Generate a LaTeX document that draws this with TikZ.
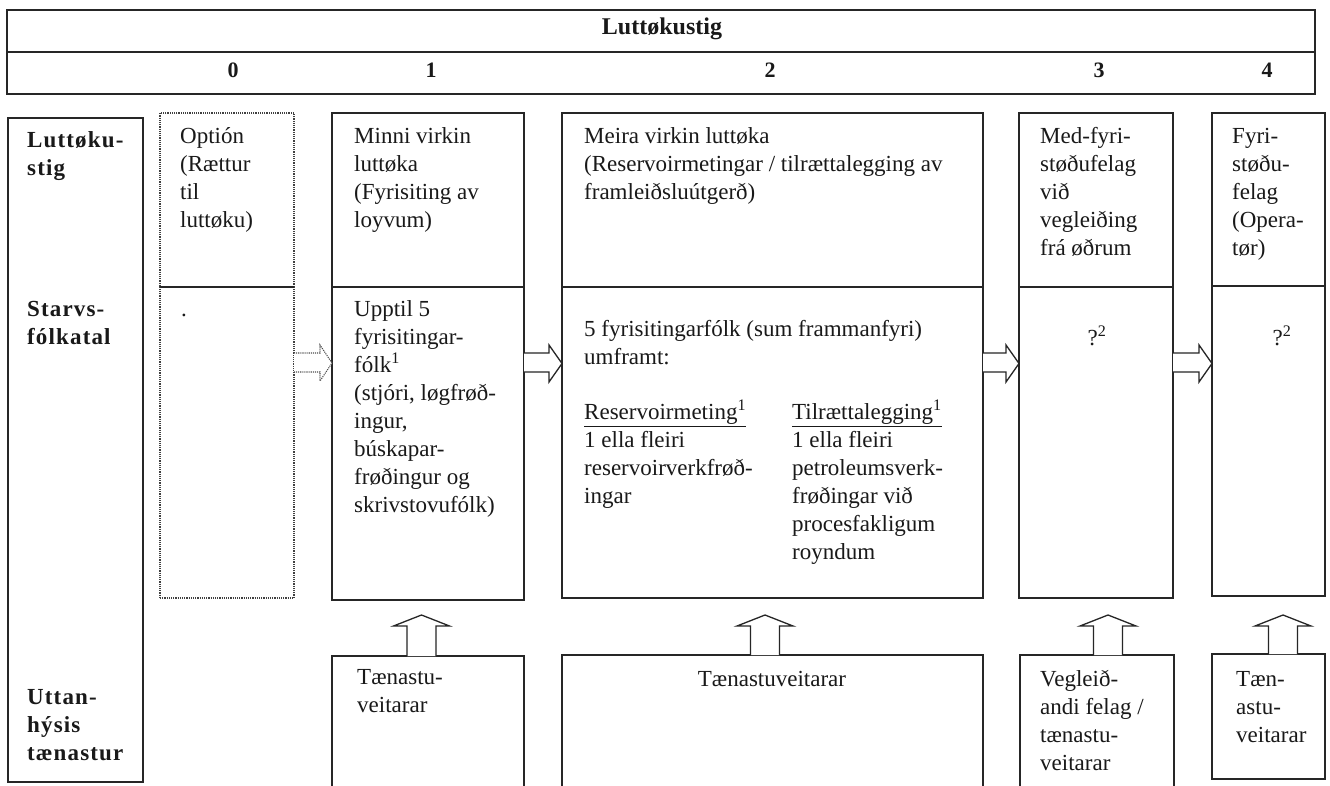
\documentclass[tikz,border=0pt]{standalone}
\usepackage{fontspec}
\setmainfont{Liberation Serif}
\begin{document}
\begin{tikzpicture}[x=1pt,y=-1pt,
  box/.style={draw=black!85, line width=1.4pt, anchor=north west, inner sep=0pt, outer sep=0pt},
  dbox/.style={draw=black!75, line width=1.2pt, densely dotted, anchor=north west, inner sep=0pt, outer sep=0pt},
  rect/.style 2 args={minimum width=#1pt, minimum height=#2pt},
  txt/.style={anchor=north west, align=left, inner sep=0pt, text=black!90, font=\fontsize{23}{28}\selectfont},
  btxt/.style={txt, font=\fontsize{23}{28}\selectfont\bfseries\addfontfeatures{LetterSpace=5}},
  htxt/.style={anchor=center, inner sep=0pt, text=black!90, font=\fontsize{22}{26}\selectfont\bfseries},
  harrow/.style={draw=black!85, line width=1.3pt, fill=white, line join=miter},
  darrow/.style={draw=black!70, line width=1.1pt, densely dotted, fill=white}
]
\useasboundingbox (0,0) rectangle (1330,786);
\clip (0,0) rectangle (1330,786);
\fill[white] (0,0) rectangle (1330,786);

% header
\node[box, rect={1308}{42}] (hdrA) at (7,10) {};
\node[box, rect={1308}{42}] (hdrB) at (7,52) {};
\node[htxt, font=\fontsize{24}{28}\selectfont\bfseries] (hl) at (662,29) {Luttøkustig};
\node[htxt] (h0) at (233,70) {0};
\node[htxt] (h1) at (431,70) {1};
\node[htxt] (h2) at (770,70) {2};
\node[htxt] (h3) at (1099,70) {3};
\node[htxt] (h4) at (1267,70) {4};

% left label column
\node[box, rect={135}{664}] (lft) at (8,118) {};
\node[btxt] (l1) at (27,128) {\strut Luttøku-\\stig};
\node[btxt] (l2) at (27,297) {\strut Starvs-\\fólkatal};
\node[btxt] (l3) at (27,685) {\strut Uttan-\\hýsis\\tænastur};

% option column
\node[dbox, rect={134}{174}] (oT) at (160,113) {};
\node[dbox, rect={134}{311}] (oB) at (160,287) {};
\draw[black!85, line width=1.4pt] (oT.south west) -- (oT.south east);
\node[txt] (ot) at (180,124) {\strut Optión\\(Rættur\\til\\luttøku)};
\node[txt] (odot) at (181,297) {\strut .};

% column 1
\node[box, rect={192}{174}] (b1T) at (332,113) {};
\node[box, rect={192}{313}] (b1B) at (332,287) {};
\node[txt] (t1a) at (354,124) {\strut Minni virkin\\luttøka\\(Fyrisiting av\\loyvum)};
\node[txt] (t1b) at (354,297) {\strut Upptil 5\\fyrisitingar-\\fólk\textsuperscript{1}\\(stjóri, løgfrøð-\\ingur,\\búskapar-\\frøðingur og\\skrivstovufólk)};

% column 2
\node[box, rect={421}{174}] (b2T) at (562,113) {};
\node[box, rect={421}{311}] (b2B) at (562,287) {};
\node[txt] (t2a) at (584,124) {\strut Meira virkin luttøka\\(Reservoirmetingar / tilrættalegging av\\framleiðsluútgerð)};
\node[txt] (t2b) at (584,317) {\strut 5 fyrisitingarfólk (sum frammanfyri)\\umframt:};
\node[txt] (t2c) at (584,400) {\strut\underline{Reservoirmeting\textsuperscript{1}}\\1 ella fleiri\\reservoirverkfrøð-\\ingar};
\node[txt] (t2d) at (792,400) {\strut\underline{Tilrættalegging\textsuperscript{1}}\\1 ella fleiri\\petroleumsverk-\\frøðingar við\\procesfakligum\\royndum};

% column 3
\node[box, rect={154}{174}] (b3T) at (1019,113) {};
\node[box, rect={154}{311}] (b3B) at (1019,287) {};
\node[txt] (t3a) at (1040,124) {\strut Med-fyri-\\støðufelag\\við\\vegleiðing\\frá øðrum};
\node[txt, anchor=center] (t3b) at (1097,336) {?\textsuperscript{2}};

% column 4
\node[box, rect={113}{173}] (b4T) at (1212,113) {};
\node[box, rect={113}{310}] (b4B) at (1212,286) {};
\node[txt] (t4a) at (1232,124) {\strut Fyri-\\støðu-\\felag\\(Opera-\\tør)};
\node[txt, anchor=center] (t4b) at (1282,336) {?\textsuperscript{2}};

% bottom service boxes
\node[box, rect={192}{150}] (s1) at (332,656) {};
\node[box, rect={421}{150}] (s2) at (562,655) {};
\node[box, rect={154}{150}] (s3) at (1020,655) {};
\node[box, rect={113}{125}] (s4) at (1212,654) {};
\node[txt] (st1) at (357,665) {\strut Tænastu-\\veitarar};
\node[txt, anchor=north] (st2) at (772,667) {\strut Tænastuveitarar};
\node[txt] (st3) at (1040,667) {\strut Vegleið-\\andi felag /\\tænastu-\\veitarar};
\node[txt] (st4) at (1236,667) {\strut Tæn-\\astu-\\veitarar};

% horizontal block arrows
\coordinate (hd0) at ([xshift=-12pt]b1B.west);
\coordinate (hd1) at ([xshift=-13pt]b2B.west);
\coordinate (hd2) at ([xshift=-13pt]b3B.west);
\coordinate (hd3) at ([xshift=-13pt]b4B.west);
\draw[darrow] (oB.east |- 0,353) -- (hd0 |- 0,353) -- (hd0 |- 0,345) -- (b1B.west |- 0,363) -- (hd0 |- 0,381) -- (hd0 |- 0,372) -- (oB.east |- 0,372);
\draw[harrow] (b1B.east |- 0,353) -- (hd1 |- 0,353) -- (hd1 |- 0,345) -- (b2B.west |- 0,363.5) -- (hd1 |- 0,382) -- (hd1 |- 0,372) -- (b1B.east |- 0,372);
\draw[harrow] (b2B.east |- 0,353) -- (hd2 |- 0,353) -- (hd2 |- 0,345) -- (b3B.west |- 0,363.5) -- (hd2 |- 0,382) -- (hd2 |- 0,372) -- (b2B.east |- 0,372);
\draw[harrow] (b3B.east |- 0,353) -- (hd3 |- 0,353) -- (hd3 |- 0,345) -- (b4B.west |- 0,363.5) -- (hd3 |- 0,382) -- (hd3 |- 0,372) -- (b3B.east |- 0,372);

% vertical block arrows
\foreach \n/\c in {1/421.5, 2/765, 3/1108, 4/1283} {
  \draw[harrow] (\c-14.5,0 |- s\n.north) -- (\c-14.5,626) -- (\c-28,626) -- (\c,615) -- (\c+28,626) -- (\c+14.5,626) -- (\c+14.5,0 |- s\n.north);
}
\end{tikzpicture}
\end{document}
